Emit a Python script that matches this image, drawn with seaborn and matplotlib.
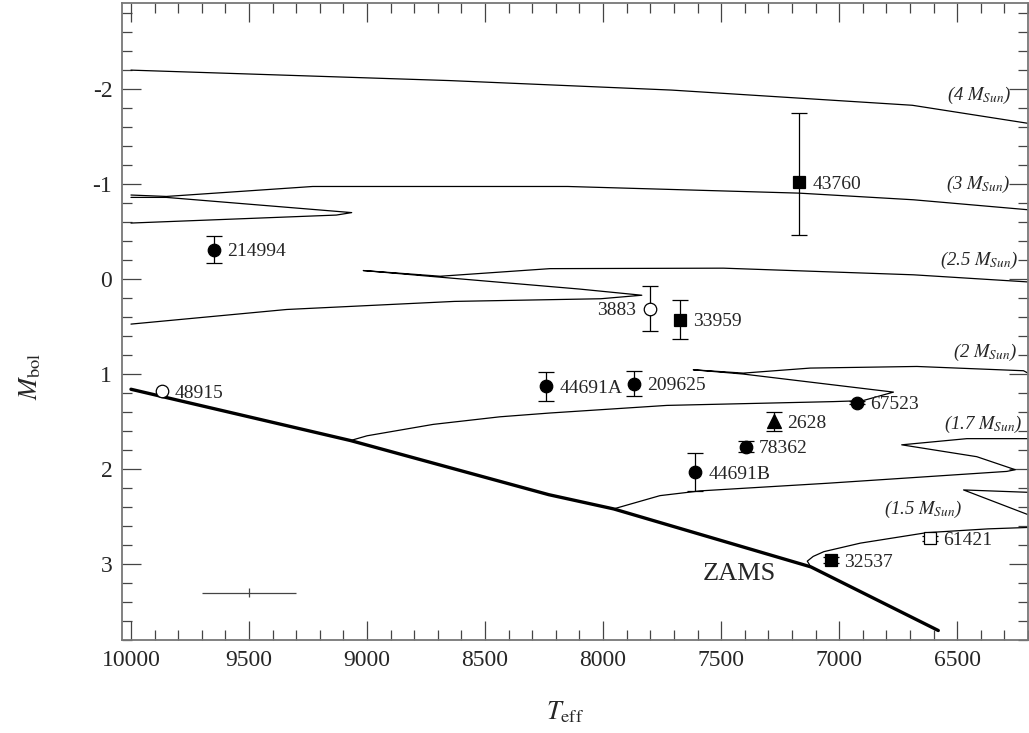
import numpy as np
import pandas as pd
import seaborn as sns
import matplotlib.pyplot as plt
from matplotlib.ticker import MultipleLocator

# --- evolutionary tracks (Teff, Mbol) ---
zams_t = [10000, 9070, 8230, 7955, 7120, 6580]
zams_m = [1.16, 1.70, 2.27, 2.42, 3.03, 3.70]

trk4_t = [10000, 8650, 7710, 6690, 6200]
trk4_m = [-2.20, -2.09, -1.99, -1.83, -1.64]

trk3a_t = [10000, 9130, 9065, 9850, 10000]
trk3a_m = [-0.59, -0.674, -0.70, -0.86, -0.86]
trk3b_t = [10000, 9850, 9230, 8150, 7170, 6685, 6200]
trk3b_m = [-0.885, -0.87, -0.975, -0.975, -0.905, -0.835, -0.73]

trk25_t = [10000, 9340, 8630, 8010, 7836, 8100, 8690, 9016, 8690, 8225, 7490, 6685, 6200]
trk25_m = [0.474, 0.32, 0.235, 0.207, 0.17, 0.105, -0.02, -0.09, -0.03, -0.11, -0.115, -0.045, 0.03]

trk2_t = [9070, 9000, 8720, 8437, 8225, 7730, 7024, 6900, 6770, 7406, 7618, 7406, 7123, 6671, 6219, 6200]
trk2_m = [1.70, 1.65, 1.53, 1.45, 1.41, 1.33, 1.29, 1.28, 1.19, 1.00, 0.955, 0.99, 0.937, 0.92, 0.965, 0.99]

trk17_t = [7956, 7759, 7589, 7052, 6290, 6254, 6417, 6735, 6459, 6200]
trk17_m = [2.42, 2.28, 2.23, 2.15, 2.025, 2.007, 1.87, 1.745, 1.68, 1.68]

trk15a_t = [7120, 7135, 7110, 7065, 6910, 6630, 6370, 6200]
trk15a_m = [3.03, 2.97, 2.92, 2.87, 2.78, 2.67, 2.63, 2.615]
trk15b_t = [6200, 6473, 6200]
trk15b_m = [2.245, 2.22, 2.48]

mass_labels = ['4', '3', '2.5', '2', '1.7', '1.5']
mass_lab_t = [6271, 6275, 6243, 6247, 6226, 6480]
mass_lab_m = [-1.93, -1.00, -0.20, 0.77, 1.53, 2.43]

# --- stars ---
names = ['214994', '43760', '3883', '33959', '44691A', '209625', '67523',
         '2628', '78362', '44691B', '32537', '61421', '48915']
teff = [9650, 7170, 7800, 7675, 8240, 7870, 6925, 7275, 7395, 7610, 7035, 6615, 9870]
mbol = [-0.31, -1.02, 0.31, 0.43, 1.13, 1.10, 1.30, 1.495, 1.765, 2.035, 2.96, 2.73, 1.18]
err_lo = [0.14, 0.73, 0.235, 0.205, 0.15, 0.13, 0.02, 0.10, 0.055, 0.20, 0.03, 0.03, 0.0]
err_hi = [0.14, 0.56, 0.235, 0.205, 0.15, 0.13, 0.02, 0.10, 0.055, 0.20, 0.03, 0.03, 0.0]
marker = ['o', 's', 'o', 's', 'o', 'o', 'o', '^', 'o', 'o', 's', 's', 'o']
filled = [True, True, False, True, True, True, True, True, True, True, True, False, False]
label_left = ['3883']

# typical error cross
cross_t, cross_m, cross_dt, cross_dm = 9500, 3.30, 200, 0.05

sns.set_style('ticks')
plt.rcParams['font.family'] = ['Liberation Serif', 'DejaVu Serif']
plt.rcParams['mathtext.fontset'] = 'stix'
plt.rcParams['axes.unicode_minus'] = False

fig = plt.figure(figsize=(10.29, 7.33), dpi=100)
ax = fig.add_axes([122 / 1029, 93 / 733, 906 / 1029, 637.3 / 733])

segs = [(trk4_t, trk4_m), (trk3a_t, trk3a_m), (trk3b_t, trk3b_m),
        (trk25_t, trk25_m), (trk2_t, trk2_m), (trk17_t, trk17_m),
        (trk15a_t, trk15a_m), (trk15b_t, trk15b_m)]
track_df = pd.concat([pd.DataFrame({'teff': t, 'mbol': m, 'seg': i})
                      for i, (t, m) in enumerate(segs)], ignore_index=True)
sns.lineplot(data=track_df, x='teff', y='mbol', units='seg', estimator=None,
             sort=False, color='black', lw=0.9, ax=ax, legend=False)
sns.lineplot(x=zams_t, y=zams_m, sort=False, color='black', lw=2.4, ax=ax)

for lab, t, m in zip(mass_labels, mass_lab_t, mass_lab_m):
    ax.text(t, m, f'({lab} $M_{{Sun}}$)', ha='right', va='center',
            fontsize=13.5, style='italic')

ax.text(7425, 3.11, 'ZAMS', ha='center', va='center', fontsize=19)

for i, name in enumerate(names):
    fc = 'black' if filled[i] else 'white'
    yerr = [[err_lo[i]], [err_hi[i]]] if err_lo[i] > 0 else None
    ms = 10 if marker[i] == '^' else (8.6 if marker[i] == 's' else 9)
    ax.errorbar(teff[i], mbol[i], yerr=yerr, fmt=marker[i], ms=ms,
                mfc=fc, mec='black', mew=0.9, ecolor='black', elinewidth=0.9,
                capsize=6, capthick=0.9, zorder=3)
    if name in label_left:
        ax.annotate(name, (teff[i], mbol[i]), xytext=(-10, 0),
                    textcoords='offset points', ha='right',
                    va='center_baseline', fontsize=14)
    else:
        ax.annotate(name, (teff[i], mbol[i]), xytext=(9.5, 0),
                    textcoords='offset points', ha='left',
                    va='center_baseline', fontsize=14)

ax.errorbar(cross_t, cross_m, xerr=cross_dt, yerr=cross_dm, fmt='none',
            ecolor='#444444', elinewidth=0.9, capsize=0)

ax.set_xlim(10038, 6200)
ax.set_ylim(3.8, -2.91)
ax.xaxis.set_major_locator(MultipleLocator(500))
ax.xaxis.set_minor_locator(MultipleLocator(100))
ax.yaxis.set_major_locator(MultipleLocator(1))
ax.yaxis.set_minor_locator(MultipleLocator(0.2))
ax.tick_params(which='both', direction='in', top=True, right=True,
               color='#444444', width=0.9, labelsize=17, pad=7)
ax.tick_params(which='major', length=14)
ax.tick_params(which='minor', length=7)
for sp in ax.spines.values():
    sp.set_color('#777777')
    sp.set_linewidth(1.3)
ax.set_xlabel('')
ax.set_ylabel('')

fig.text(565 / 1029, 1 - 712 / 733, r'$T_{\rm eff}$', ha='center', va='center', fontsize=19)
fig.text(30 / 1029, 1 - 376 / 733, r'$M_{\rm bol}$', ha='center', va='center',
         fontsize=19, rotation=90)

fig.savefig('out.png', dpi=100)
